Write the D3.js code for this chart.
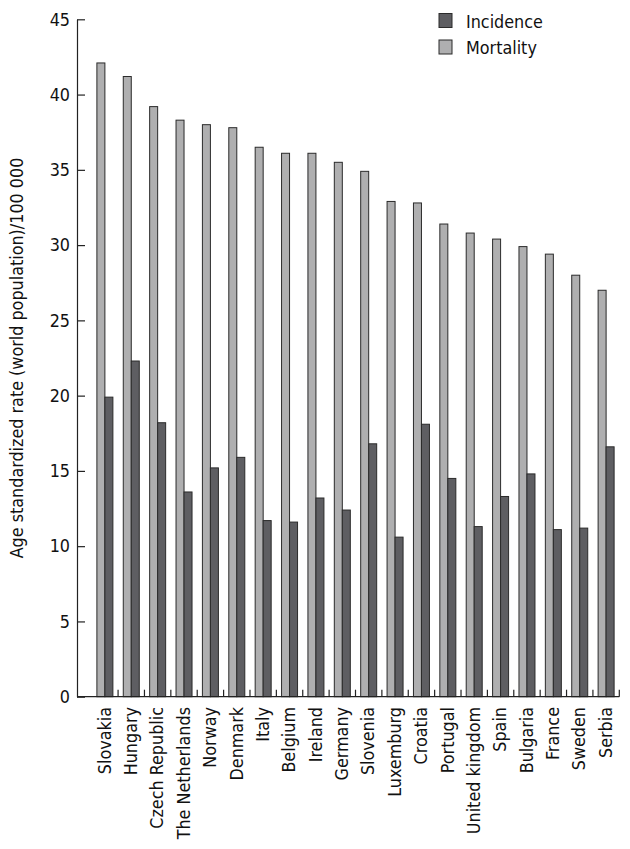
<!DOCTYPE html>
<html>
<head>
<meta charset="utf-8">
<script src="https://cdn.jsdelivr.net/npm/d3@7"></script>
<style>
  html, body { margin: 0; padding: 0; background: #fff; }
  svg { display: block; font-family: "DejaVu Sans Condensed", "DejaVu Sans", sans-serif; }
</style>
</head>
<body>
<svg id="chart" width="630" height="849"></svg>
<script>
const countries = ["Slovakia","Hungary","Czech Republic","The Netherlands","Norway","Denmark","Italy","Belgium","Ireland","Germany","Slovenia","Luxemburg","Croatia","Portugal","United kingdom","Spain","Bulgaria","France","Sweden","Serbia"];
const mortality = [42.1,41.2,39.2,38.3,38.0,37.8,36.5,36.1,36.1,35.5,34.9,32.9,32.8,31.4,30.8,30.4,29.9,29.4,28.0,27.0];
const incidence = [19.9,22.3,18.2,13.6,15.2,15.9,11.7,11.6,13.2,12.4,16.8,10.6,18.1,14.5,11.3,13.3,14.8,11.1,11.2,16.6];
const seriesNames = ["Mortality","Incidence"];
const legendOrder = ["Incidence","Mortality"];
const yTicks = [0,5,10,15,20,25,30,35,40,45];
const yTitle = "Age standardized rate (world population)/100 000";

const FONT = "DejaVu Sans Condensed, DejaVu Sans, sans-serif";
const FS = 17.8;
const colors = { Incidence: "#5e5e62", Mortality: "#afafb0" };
const svg = d3.select("#chart");

const axisX = 77, plotRight = 619.3, yTop = 19.3, yBottom = 696.7;

const y = d3.scaleLinear().domain([0, 45]).range([yBottom, yTop]);
const x = d3.scaleBand().domain(countries).range([91.7, plotRight]).padding(0);
const bw = x.bandwidth();
const xs = d3.scaleBand().domain(seriesNames).range([bw / 2 - 8, bw / 2 + 8]).padding(0);

const rows = countries.map((c, i) => ({ country: c, Mortality: mortality[i], Incidence: incidence[i] }));

// bars
svg.append("g").selectAll("g.grp").data(rows).join("g")
  .attr("class", "grp")
  .attr("transform", d => `translate(${x(d.country)},0)`)
  .selectAll("rect")
  .data(d => seriesNames.map(s => ({ s, v: d[s] })))
  .join("rect")
  .attr("x", d => xs(d.s))
  .attr("width", xs.bandwidth())
  .attr("y", d => y(d.v))
  .attr("height", d => y(0) - y(d.v))
  .attr("fill", d => colors[d.s])
  .attr("stroke", "#2b2b2b")
  .attr("stroke-width", 1);

// y axis
const yAxis = d3.axisLeft(y).tickValues(yTicks).tickSizeInner(-8).tickSizeOuter(0).tickPadding(7);
const yg = svg.append("g").attr("transform", `translate(${axisX},0)`).call(yAxis);
yg.selectAll("path, line").attr("stroke", "#222").attr("stroke-width", 1.2);
yg.selectAll("text").attr("font-size", FS).attr("fill", "#111").attr("font-family", FONT);

// x axis line
svg.append("line")
  .attr("x1", axisX).attr("x2", plotRight)
  .attr("y1", y(0)).attr("y2", y(0))
  .attr("stroke", "#222").attr("stroke-width", 1.2);

// x boundary ticks
svg.append("g").selectAll("line").data(countries).join("line")
  .attr("x1", d => x(d) + bw).attr("x2", d => x(d) + bw)
  .attr("y1", y(0)).attr("y2", y(0) - 7)
  .attr("stroke", "#222").attr("stroke-width", 1.2);

// x labels
svg.append("g").selectAll("text").data(countries).join("text")
  .attr("transform", d => `translate(${x(d) + bw / 2 - 0.5},707) rotate(-90)`)
  .attr("text-anchor", "end")
  .attr("dy", "0.35em")
  .attr("font-family", FONT)
  .attr("font-size", FS)
  .attr("fill", "#111")
  .text(d => d);

// y title
svg.append("text")
  .attr("transform", `translate(17,${(yTop + yBottom) / 2}) rotate(-90)`)
  .attr("text-anchor", "middle")
  .attr("dy", "0.35em")
  .attr("font-family", FONT)
  .attr("font-size", FS)
  .attr("fill", "#111")
  .text(yTitle);

// legend
const lg = svg.append("g").selectAll("g").data(legendOrder).join("g")
  .attr("transform", (d, i) => `translate(439,${13.5 + i * 26.5})`);
lg.append("rect").attr("width", 13).attr("height", 14)
  .attr("fill", d => colors[d]).attr("stroke", "#2b2b2b").attr("stroke-width", 1);
lg.append("text").attr("x", 27).attr("y", 14.3)
  .attr("font-family", FONT)
  .attr("font-size", FS).attr("fill", "#111").text(d => d);
</script>
</body>
</html>
